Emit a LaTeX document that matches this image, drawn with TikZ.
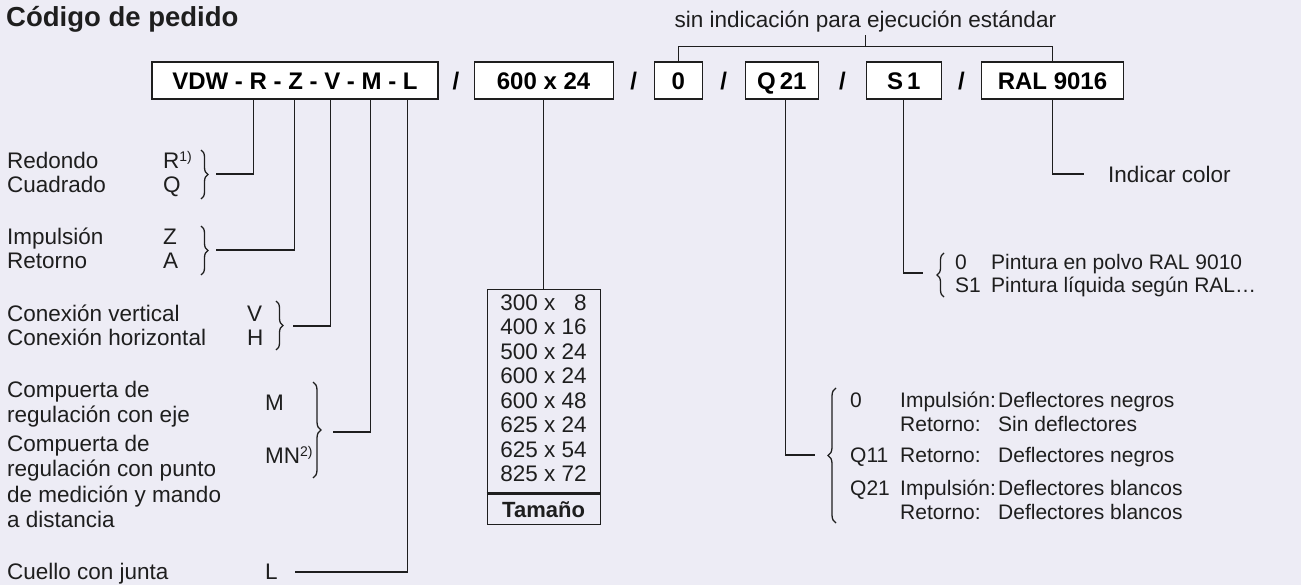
\documentclass[tikz,border=0pt]{standalone}
\usepackage{fontspec}
\setmainfont{Liberation Sans}
\usepackage{tikz}
\usetikzlibrary{positioning,calc,decorations.pathreplacing}
\definecolor{paper}{RGB}{237,236,245}
\definecolor{ink}{RGB}{30,30,30}
\newcommand{\sups}[1]{\raisebox{7pt}{\fontsize{14}{14}\selectfont #1}}

\begin{document}
\begin{tikzpicture}[x=1pt, y=-1pt,
  code/.style={draw=ink, fill=white, line width=1.1pt, inner sep=0pt,
               minimum height=37pt, text height=19pt, text depth=0pt,
               font=\fontsize{24}{26}\selectfont\bfseries},
  slash/.style={inner sep=0pt, text height=19pt, text depth=0pt,
                font=\fontsize{24}{26}\selectfont\bfseries},
  txt/.style={inner sep=0pt, anchor=base west, text=ink,
              font=\fontsize{22.5}{24}\selectfont},
  small/.style={txt, font=\fontsize{21}{23}\selectfont},
  sizebox/.style={draw=ink, line width=1.1pt, inner sep=0pt, minimum width=113pt,
                  text=ink, font=\fontsize{22.5}{24.5}\selectfont},
  conn/.style={draw=ink, line width=1.1pt},
  brc/.style={draw=ink, line width=1.3pt, decorate,
              decoration={brace, amplitude=7pt}},
]

\fill[paper] (0,0) rectangle (1301,585);
\useasboundingbox (0,0) rectangle (1301,585);

% --- Title ---
\node[txt, font=\fontsize{27.5}{29}\selectfont\bfseries] (title) at (6,27) {Código de pedido};

% --- Code boxes ---
\node[code, minimum width=286pt] (vdw) at (295,80.5) {VDW - R - Z - V - M - L};
\node[code, minimum width=139pt, right=35pt of vdw] (size) {600 x 24};
\node[code, minimum width=48pt, right=40pt of size] (zero) {0};
\node[code, minimum width=73pt, right=42pt of zero] (q21) {Q\,21};
\node[code, minimum width=75pt, right=47pt of q21] (s1) {S\,1};
\node[code, minimum width=142pt, right=39pt of s1] (ral) {RAL 9016};

\node[slash] (sl1) at ($(vdw.east)!0.5!(size.west)$) {/};
\node[slash] (sl2) at ($(size.east)!0.5!(zero.west)$) {/};
\node[slash] (sl3) at ($(zero.east)!0.5!(q21.west)$) {/};
\node[slash] (sl4) at ($(q21.east)!0.5!(s1.west)$) {/};
\node[slash] (sl5) at ($(s1.east)!0.5!(ral.west)$) {/};

% --- Standard bracket ---
\draw[conn] (zero.north) -- ++(0,-15) -| (ral.north);
\coordinate (topmid) at ($(zero.north)!0.5!(ral.north)+(0,-15)$);
\draw[conn] (topmid) -- ++(0,-11);
\node[txt, anchor=base] (std) at ($(topmid)+(0,-19)$) {sin indicación para ejecución estándar};

% --- Left legend ---
\node[txt, font=\fontsize{22.5}{23}\selectfont] (shape) at (7,169)
  {\begin{tabular}[t]{@{}p{156pt}@{}l@{}}Redondo & R\sups{1)}\\ Cuadrado & Q\end{tabular}};
\node[txt, font=\fontsize{22.5}{24}\selectfont] (flow) at (7,245)
  {\begin{tabular}[t]{@{}p{156pt}@{}l@{}}Impulsión & Z\\ Retorno & A\end{tabular}};
\node[txt, font=\fontsize{22.5}{23}\selectfont] (conx) at (7,322)
  {\begin{tabular}[t]{@{}p{240pt}@{}l@{}}Conexión vertical & V\\ Conexión horizontal & H\end{tabular}};
\node[txt, font=\fontsize{22.5}{25.5}\selectfont] (damper) at (7,397)
  {\begin{tabular}[t]{@{}l@{}}Compuerta de\\ regulación con eje\\[3pt] Compuerta de\\
   regulación con punto\\ de medición y mando\\ a distancia\end{tabular}};
\node[txt] (letM) at (265,410) {M};
\node[txt] (letMN) at (265,463) {MN\sups{2)}};
\node[txt] (neck) at (7,579) {Cuello con junta};
\node[txt] (letL) at (265,579) {L};

% --- Braces ---
\draw[brc] (201,150) -- (201,199);
\draw[brc] (201,226) -- (201,275);
\draw[brc] (276,301) -- (276,350);
\draw[brc, decoration={amplitude=8pt}] (313,382) -- (313,478);
\draw[brc] (944,297) -- (944,253);
\draw[brc, decoration={amplitude=8pt}] (836,523) -- (836,388);

% --- Brace tips ---
\coordinate (tipR) at (216,174);
\coordinate (tipZ) at (216,250);
\coordinate (tipV) at (293,326);
\coordinate (tipM) at (333,432);
\coordinate (tipL) at (295,572);
\coordinate (tipS) at (923,273);
\coordinate (tipQ) at (815,455);
\coordinate (tipC) at (1084,174);

% --- Connectors from the code ---
\draw[conn] ([xshift=102pt]vdw.south west) |- (tipR);
\draw[conn] ([xshift=143pt]vdw.south west) |- (tipZ);
\draw[conn] ([xshift=179pt]vdw.south west) |- (tipV);
\draw[conn] ([xshift=219pt]vdw.south west) |- (tipM);
\draw[conn] ([xshift=256pt]vdw.south west) |- (tipL);
\draw[conn] (s1.south) |- (tipS);
\draw[conn] ([xshift=4pt]q21.south) |- (tipQ);
\draw[conn] (ral.south) |- (tipC);

% --- Size table ---
\node[sizebox, minimum height=204pt, below=189pt of size] (sizes)
  {\begin{tabular}{@{}r@{\ x\ }r@{}}300 & 8\\ 400 & 16\\ 500 & 24\\ 600 & 24\\
   600 & 48\\ 625 & 24\\ 625 & 54\\ 825 & 72\end{tabular}};
\node[sizebox, minimum height=30pt, below=0pt of sizes,
      font=\fontsize{22}{24}\selectfont\bfseries] (tam) {Tamaño};
\draw[draw=ink, line width=3pt] (sizes.south west) -- (sizes.south east);
\draw[conn] (size.south) -- (sizes.north);

% --- Right legend ---
\node[txt] (color) at (1108,183) {Indicar color};
\node[small] (paint) at (955,270)
  {\begin{tabular}[t]{@{}p{36pt}@{}l@{}}0 & Pintura en polvo RAL 9010\\
   S1 & Pintura líquida según RAL\dots\end{tabular}};
\node[small, font=\fontsize{21}{24.5}\selectfont] (defl) at (850,407)
  {\begin{tabular}[t]{@{}p{50pt}@{}p{98pt}@{}l@{}}0 & Impulsión: & Deflectores negros\\
   & Retorno: & Sin deflectores\\[6.5pt]
   Q11 & Retorno: & Deflectores negros\\[8pt]
   Q21 & Impulsión: & Deflectores blancos\\
   & Retorno: & Deflectores blancos\end{tabular}};
\end{tikzpicture}
\end{document}
